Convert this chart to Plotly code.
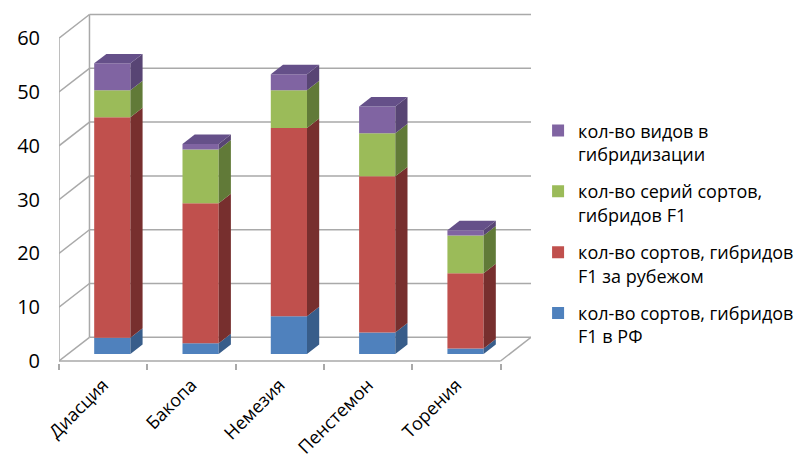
import plotly.graph_objects as go

# ---- data ----
categories = ["Диасция", "Бакопа", "Немезия", "Пенстемон", "Торения"]
series_names = [
    "кол-во сортов, гибридов<br>F1 в РФ",
    "кол-во сортов, гибридов<br>F1 за рубежом",
    "кол-во серий сортов,<br>гибридов F1",
    "кол-во видов в<br>гибридизации",
]
varieties_rf = [3, 2, 7, 4, 1]
varieties_abroad = [41, 26, 35, 29, 14]
series_f1 = [5, 10, 7, 8, 7]
species = [5, 1, 3, 5, 1]
y_ticks = [0, 10, 20, 30, 40, 50, 60]

series_values = [varieties_rf, varieties_abroad, series_f1, species]
front_colors = ["#4F81BD", "#C0504D", "#9BBB59", "#8064A2"]
side_colors = ["#385D8A", "#772F2E", "#617A38", "#584574"]
top_colors = ["#4A72A6", "#A04442", "#829D4B", "#655089"]

# ---- pseudo-3D geometry (in axis units) ----
DX, DY = 0.345, 4.4       # depth of the chart box
F0, F1 = 0.3, 0.7         # front/back of bars as fraction of depth
BW = 0.41                 # bar width
GRID = "#A9A9A9"
FONT = "Open Sans"

fig = go.Figure()
n = len(categories)
ns = len(series_values)
cum = [0] * n
for s, vals in enumerate(series_values):
    xs = [i + F0 * DX for i in range(n)]
    bases = [cum[i] + F0 * DY for i in range(n)]
    fig.add_trace(go.Bar(
        x=xs, y=vals, base=bases, width=BW, name=series_names[s],
        legendgroup="g%d" % s, legendrank=100 * (ns - s),
        marker=dict(color=front_colors[s], line=dict(width=0)),
        hoverinfo="skip",
    ))
    # side faces
    px, py = [], []
    bdx, bdy = (F1 - F0) * DX, (F1 - F0) * DY
    for i in range(n):
        if vals[i] <= 0:
            continue
        xr = xs[i] + BW / 2
        b = bases[i]
        t = bases[i] + vals[i]
        px += [xr, xr + bdx, xr + bdx, xr, xr, None]
        py += [b, b + bdy, t + bdy, t, b, None]
    fig.add_trace(go.Scatter(
        x=px, y=py, mode="lines", line=dict(width=0), fill="toself",
        fillcolor=side_colors[s], showlegend=False, hoverinfo="skip",
        legendgroup="g%d" % s, legendrank=100 * (ns - s),
    ))
    cum = [cum[i] + vals[i] for i in range(n)]

# top faces of the stacks
bdx, bdy = (F1 - F0) * DX, (F1 - F0) * DY
for i in range(n):
    top_s = max(s for s in range(ns) if series_values[s][i] > 0)
    xl = i + F0 * DX - BW / 2
    xr = xl + BW
    t = cum[i] + F0 * DY
    fig.add_trace(go.Scatter(
        x=[xl, xr, xr + bdx, xl + bdx, xl], y=[t, t, t + bdy, t + bdy, t],
        mode="lines", line=dict(width=0), fill="toself",
        fillcolor=top_colors[top_s], showlegend=False, hoverinfo="skip",
        legendgroup="g%d" % top_s, legendrank=100 * (ns - top_s),
    ))

# walls, gridlines, floor
x0 = -0.5
x1 = n - 0.5
shapes = []
def line(xa, ya, xb, yb):
    shapes.append(dict(type="line", x0=xa, y0=ya, x1=xb, y1=yb, xref="x", yref="y",
                       line=dict(color=GRID, width=1.5), layer="below"))
for v in y_ticks:
    line(x0, v, x0 + DX, v + DY)
    line(x0 + DX, v + DY, x1 + DX, v + DY)
line(x0, y_ticks[0], x0, y_ticks[-1])
line(x0 + DX, y_ticks[0] + DY, x0 + DX, y_ticks[-1] + DY)
line(x0, 0, x1, 0)
line(x1, 0, x1 + DX, DY)

fig.update_layout(
    width=804, height=461,
    margin=dict(l=59, r=273, t=10, b=98, autoexpand=False),
    paper_bgcolor="white", plot_bgcolor="white",
    barmode="overlay",
    shapes=shapes,
    font=dict(family=FONT, color="#000000"),
    showlegend=True,
    legend=dict(
        x=1.015, xanchor="left", y=0.71, yanchor="top",
        traceorder="grouped", valign="top", tracegroupgap=11,
        font=dict(size=18, family=FONT, color="#000000"),
        itemclick=False, itemdoubleclick=False,
    ),
    xaxis=dict(
        range=[x0, x1 + DX], tickvals=list(range(n)), ticktext=categories,
        tickangle=-45, tickfont=dict(size=18), ticks="", automargin=False,
        ticklabelstandoff=7,
        showgrid=False, zeroline=False, showline=False, fixedrange=True,
        minor=dict(tickvals=[k - 0.5 for k in range(n + 1)], ticks="outside",
                   ticklen=6, tickcolor=GRID, tickwidth=1.5, showgrid=False),
    ),
    yaxis=dict(
        range=[-0.372, 65.24], tickvals=y_ticks, ticks="", automargin=False,
        tickfont=dict(size=20), ticklabelstandoff=18,
        showgrid=False, zeroline=False, showline=False, fixedrange=True,
    ),
)

fig.write_html("out.html", config={"displayModeBar": False},
               post_script="document.body.style.margin='0';document.body.style.padding='0';")
